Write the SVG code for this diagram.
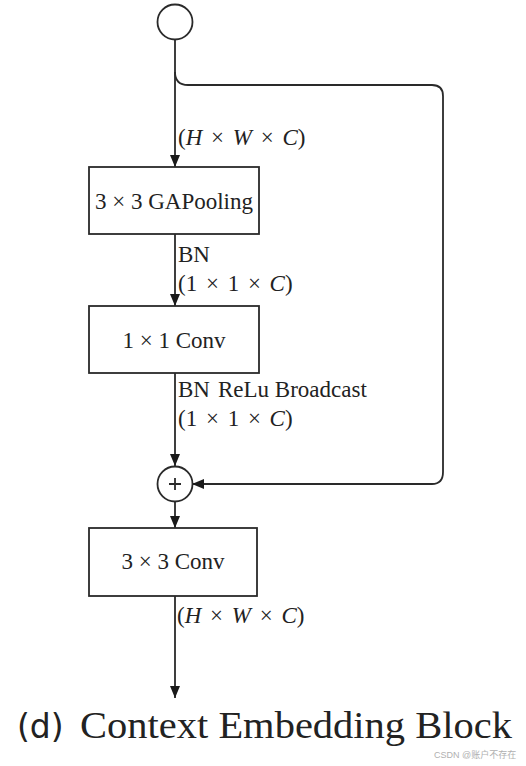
<svg xmlns="http://www.w3.org/2000/svg" width="526" height="766" viewBox="0 0 526 766">
<style>
.ln{fill:none;stroke:#2a2a2a;stroke-width:1.8}
.bx{fill:#fff;stroke:#2a2a2a;stroke-width:1.8}
.t{font-family:"Liberation Serif",serif;font-size:23px;fill:#222}
.m{word-spacing:3px}
.c{text-anchor:middle}
.i{font-style:italic}
</style>
<defs>
<marker id="ah" viewBox="0 0 12 10" refX="12" refY="5" markerWidth="12" markerHeight="10" orient="auto" markerUnits="userSpaceOnUse">
<path d="M0,0 L12,5 L0,10 z" fill="#1a1a1a"/>
</marker>
</defs>
<rect width="526" height="766" fill="#fff"/>
<g id="connectors">
<line class="ln" x1="175" y1="39" x2="175" y2="167" marker-end="url(#ah)"/>
<path class="ln" d="M175,72 Q175,85 188,85 L432,85 Q443,85 443,96 L443,472 Q443,484 432,484 L192,484" marker-end="url(#ah)"/>
<line class="ln" x1="175" y1="234" x2="175" y2="306" marker-end="url(#ah)"/>
<line class="ln" x1="175" y1="373" x2="175" y2="466" marker-end="url(#ah)"/>
<line class="ln" x1="175" y1="502" x2="175" y2="528" marker-end="url(#ah)"/>
<line class="ln" x1="175" y1="596" x2="175" y2="698" marker-end="url(#ah)"/>
</g>
<g id="input">
<circle class="bx" cx="175" cy="22" r="17.5"/>
</g>
<g id="label-in">
<text class="t m" x="178" y="145">(<tspan class="i">H</tspan> × <tspan class="i">W</tspan> × <tspan class="i">C</tspan>)</text>
</g>
<g id="gapool">
<rect class="bx" x="89" y="167" width="170" height="67"/>
<text class="t c" x="174" y="209">3 × 3 GAPooling</text>
</g>
<g id="label-bn1">
<text class="t" x="178" y="262">BN</text>
<text class="t m" x="178" y="291">(1 × 1 × <tspan class="i">C</tspan>)</text>
</g>
<g id="conv1">
<rect class="bx" x="89" y="306" width="170" height="67"/>
<text class="t c" x="174" y="348">1 × 1 Conv</text>
</g>
<g id="label-bn2">
<text class="t" x="178" y="397">BN<tspan dx="8">ReLu Broadcast</tspan></text>
<text class="t m" x="178" y="426">(1 × 1 × <tspan class="i">C</tspan>)</text>
</g>
<g id="add">
<circle class="bx" cx="175" cy="484" r="17.5"/>
<path class="ln" d="M169,484 H181 M175,478 V490"/>
</g>
<g id="conv3">
<rect class="bx" x="89" y="528" width="168" height="68"/>
<text class="t c" x="173" y="569">3 × 3 Conv</text>
</g>
<g id="label-out">
<text class="t m" x="177" y="623">(<tspan class="i">H</tspan> × <tspan class="i">W</tspan> × <tspan class="i">C</tspan>)</text>
</g>
<g id="caption">
<text x="17" y="738" style="font-family:'DejaVu Sans',sans-serif;font-size:33px;fill:#222">(d)</text>
<text x="80" y="738" textLength="432" lengthAdjust="spacingAndGlyphs" style="font-family:'Liberation Serif',serif;font-size:38px;fill:#222">Context Embedding Block</text>
<text x="434" y="758" style="font-family:'Liberation Sans','Noto Sans CJK SC',sans-serif;font-size:9px;fill:#b0b0b0">CSDN @账户不存在</text>
</g>
</svg>
